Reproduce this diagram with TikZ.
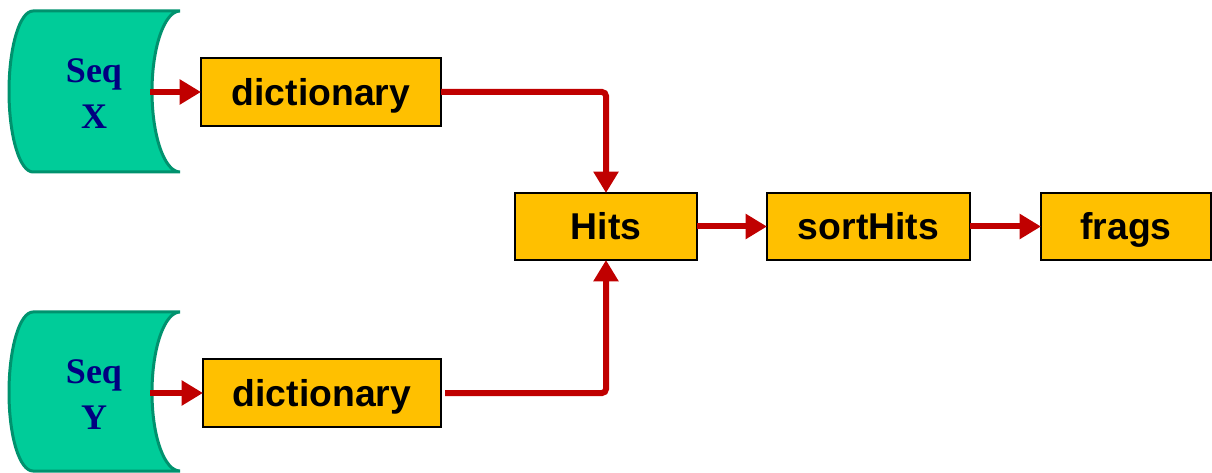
\documentclass[tikz,border=0pt]{standalone}
\usepackage{fontspec}
\setmainfont{Liberation Sans}
\newfontfamily\seqfont{Liberation Serif}
\usetikzlibrary{arrows.meta}
\definecolor{boxfill}{RGB}{255,192,0}
\definecolor{arrred}{RGB}{192,0,0}
\definecolor{seqfill}{RGB}{0,204,153}
\definecolor{seqline}{RGB}{0,146,110}
\definecolor{seqtext}{RGB}{0,0,128}
\tikzset{
  procbox/.style={draw=black, line width=1.5pt, fill=boxfill, inner sep=0pt, outer sep=0pt,
    minimum height=51pt, text height=20pt, text depth=0pt, font=\fontsize{28}{34}\selectfont\bfseries},
  flow/.style={draw=arrred, line width=4.5pt, -{Triangle[width=18pt,length=16pt]}, rounded corners=3pt},
  seqshape/.style={fill=seqfill, draw=seqline, line width=2.25pt},
  seqlabel/.style={text=seqtext, align=center, inner sep=0pt, font=\seqfont\fontsize{27}{34.5}\selectfont\bfseries}
}
\begin{document}
\begin{tikzpicture}[x=0.75pt,y=-0.75pt]
\useasboundingbox (0,0) rectangle (1212,473);
% Seq X
\draw[seqshape] (33,11) -- (180,11)
  .. controls (164.5,11) and (152,47) .. (152,91.5)
  .. controls (152,136) and (164.5,172) .. (180,172)
  -- (33,172)
  .. controls (19.7,172) and (9,136) .. (9,91.5)
  .. controls (9,47) and (19.7,11) .. (33,11) -- cycle;
\node[seqlabel] (seqx) at (94,94) {Seq\\X};
\coordinate (sxe) at (150,92);
% Seq Y
\draw[seqshape] (33,312) -- (180,312)
  .. controls (164.5,312) and (152,348) .. (152,392.5)
  .. controls (152,437) and (164.5,471) .. (180,471)
  -- (33,471)
  .. controls (19.7,471) and (9,437) .. (9,392.5)
  .. controls (9,348) and (19.7,312) .. (33,312) -- cycle;
\node[seqlabel] (seqy) at (94,395) {Seq\\Y};
\coordinate (sye) at (150,393);
% boxes
\node[procbox, minimum width=180pt] (dictx) at (321,92) {dictionary};
\node[procbox, minimum width=178.5pt] (dicty) at (322,393) {dictionary};
\node[procbox, minimum width=136.5pt, minimum height=50.25pt] (hits) at (606,226.5) {Hits};
\node[procbox, minimum width=152.25pt, minimum height=50.25pt] (sort) at (868.5,226.5) {sortHits};
\node[procbox, minimum width=127.5pt, minimum height=50.25pt] (frags) at (1126,226.5) {frags};
% connectors
\draw[flow] (sxe) -- (dictx.west);
\draw[flow] (sye) -- (dicty.west);
\draw[flow] (dictx.east) -| (hits.north);
\draw[flow] ([xshift=3pt]dicty.east) -| (hits.south);
\draw[flow] (hits.east) -- (sort.west);
\draw[flow] (sort.east) -- (frags.west);
\end{tikzpicture}
\end{document}
